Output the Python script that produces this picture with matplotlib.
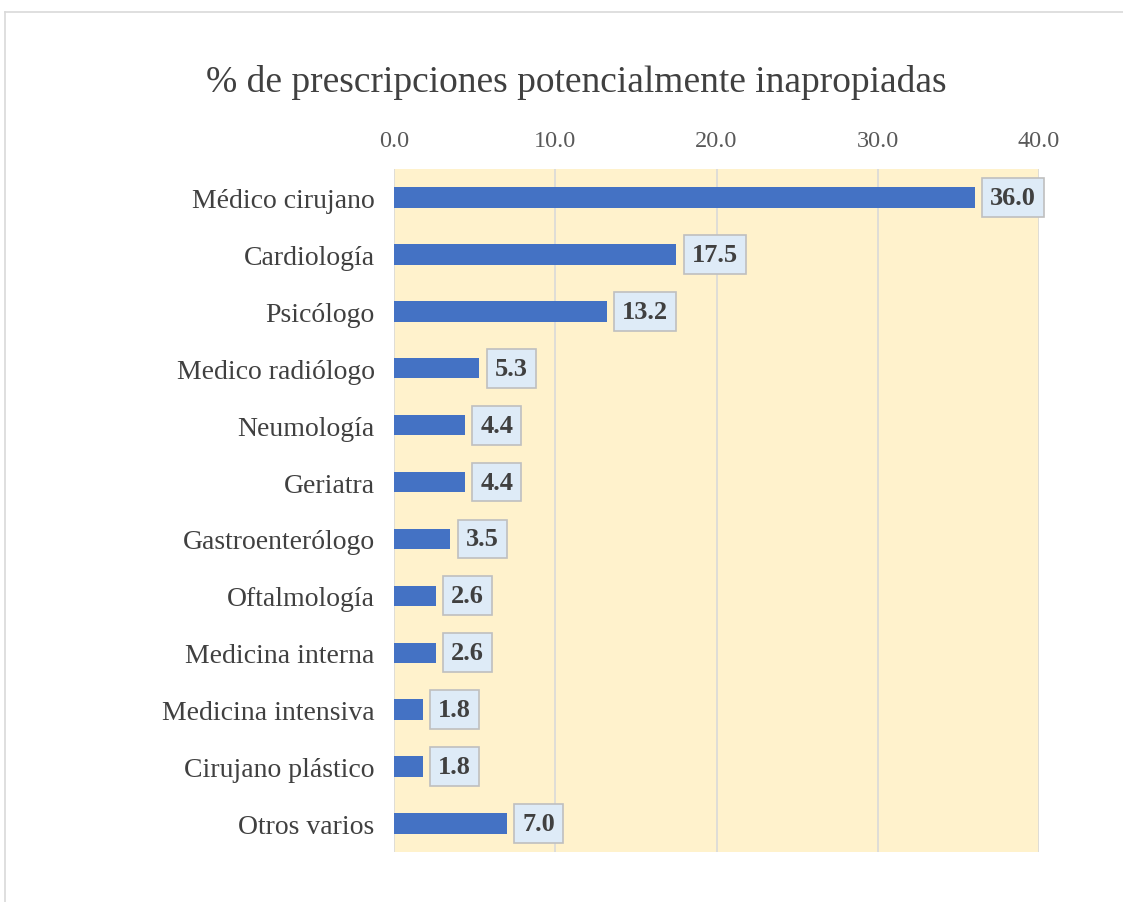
import matplotlib.pyplot as plt
from matplotlib.lines import Line2D

plt.rcParams.update({"font.family": ["Liberation Serif", "DejaVu Serif"]})

categories = ["Médico cirujano", "Cardiología", "Psicólogo", "Medico radiólogo",
              "Neumología", "Geriatra", "Gastroenterólogo", "Oftalmología",
              "Medicina interna", "Medicina intensiva", "Cirujano plástico",
              "Otros varios"]
values = [36.0, 17.5, 13.2, 5.3, 4.4, 4.4, 3.5, 2.6, 2.6, 1.8, 1.8, 7.0]
xticks = [0, 10, 20, 30, 40]

W, H = 11.23, 9.03
fig = plt.figure(figsize=(W, H), dpi=100)
ax = fig.add_axes([394 / 1123, 1 - 853 / 903, 645 / 1123, 683 / 903])

ax.set_facecolor("#FFF2CC")
ypos = list(range(len(categories)))
ax.barh(ypos, values, height=0.36, color="#4472C4", zorder=3)
ax.set_ylim(len(categories) - 0.5, -0.5)
ax.set_xlim(0, 40)

ax.set_yticks(ypos)
ax.set_yticklabels(categories, fontsize=20, color="#404040")
ax.set_xticks(xticks)
ax.set_xticklabels([f"{t:.1f}" for t in xticks], fontsize=17.5, color="#595959")
ax.xaxis.tick_top()
ax.tick_params(axis="both", length=0)
ax.tick_params(axis="y", pad=14)
ax.tick_params(axis="x", pad=13)
ax.grid(axis="x", color="#D9D9D9", linewidth=1.2, zorder=1)
for s in ax.spines.values():
    s.set_visible(False)

for y, v in zip(ypos, values):
    ax.annotate(f"{v:.1f}", xy=(v, y), xytext=(11, 0), textcoords="offset points",
                va="center", ha="left", fontsize=19, fontweight="bold", color="#404040",
                bbox=dict(boxstyle="square,pad=0.3", facecolor="#DEEBF7",
                          edgecolor="#BFBFBF", linewidth=1.2), zorder=4)

fig.text(576 / 1123, 1 - 82 / 903, "% de prescripciones potencialmente inapropiadas",
         ha="center", va="center", fontsize=27, color="#404040")

# outer chart border (top and left visible)
fig.add_artist(Line2D([5 / 1123, 1], [1 - 13 / 903, 1 - 13 / 903],
                      transform=fig.transFigure, color="#D9D9D9", linewidth=1.2))
fig.add_artist(Line2D([5 / 1123, 5 / 1123], [0, 1 - 13 / 903],
                      transform=fig.transFigure, color="#D9D9D9", linewidth=1.2))

fig.savefig("out.png", dpi=100)
